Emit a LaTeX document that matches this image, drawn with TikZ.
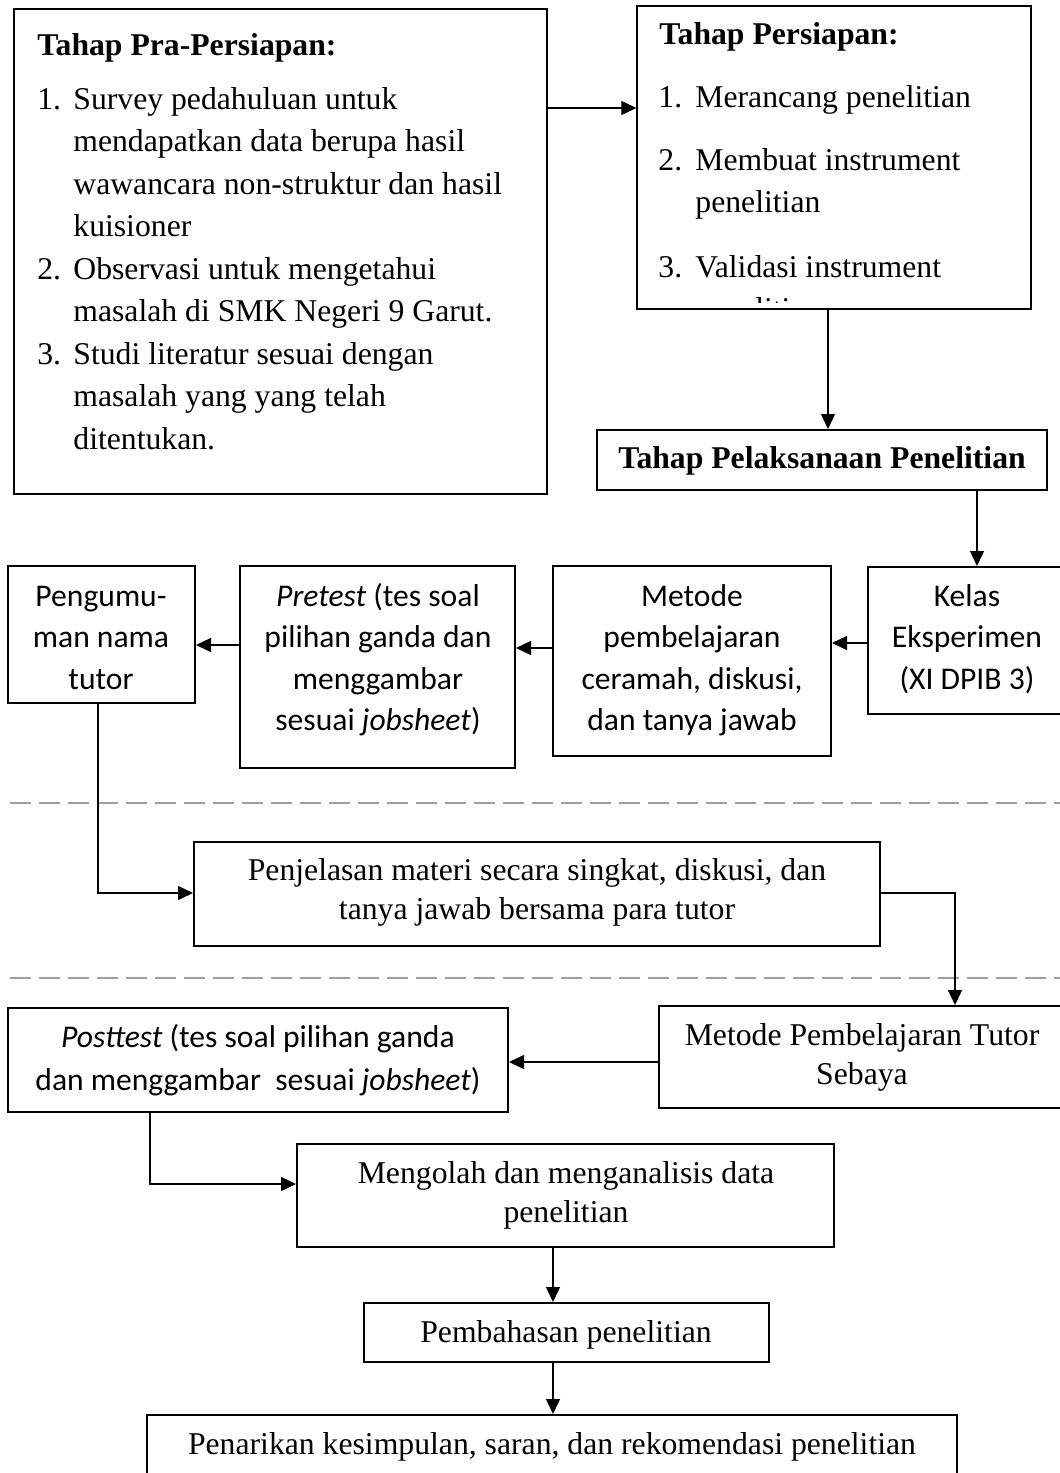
\documentclass[tikz,border=0pt]{standalone}
\usepackage{fontspec}
\setmainfont{Liberation Serif}
\newfontfamily\calfont{Carlito}
\usetikzlibrary{arrows.meta,fit}
\begin{document}
\begin{tikzpicture}[x=0.5pt,y=-0.5pt,
  boxA/.style={draw, line width=0.7pt, inner sep=0pt},
  boxB/.style={draw, line width=1pt, inner sep=0pt},
  conn/.style={line width=0.65pt, -{Triangle[length=7.5pt,width=7pt]}},
  sepline/.style={draw=black!38, line width=1.3pt, dash pattern=on 10.5pt off 4pt},
  tnr/.style={font=\fontsize{15.85pt}{21.25pt}\selectfont, inner sep=0pt},
  tnrc/.style={font=\fontsize{15.85pt}{19.5pt}\selectfont, inner sep=0pt, align=center, anchor=base},
  cal/.style={font=\calfont\fontsize{15.8pt}{20.75pt}\selectfont, inner sep=0pt, align=center, anchor=base},
]
\useasboundingbox (0,0) rectangle (1060,1473);
\fill[white] (0,0) rectangle (1060,1473);

% separators
\draw[sepline] (10,803) -- (1060,803);
\draw[sepline] (10,978) -- (1060,978);

% boxes
\node[boxA, fit={(14,9) (547,494)}] (b1) {};
\node[boxA, fit={(637,6) (1031,309)}] (b2) {};
\node[boxB, fit={(597,430) (1047,490)}] (b3) {};
\node[boxB, fit={(8,566) (195,703)}] (peng) {};
\node[boxB, fit={(240,566) (515,768)}] (pre) {};
\node[boxB, fit={(553,566) (831,756)}] (met) {};
\node[boxB, fit={(868,567) (1066,714)}] (kel) {};
\node[boxB, fit={(194,842) (880,946)}] (penj) {};
\node[boxB, fit={(659,1006) (1066,1108)}] (tutor) {};
\node[boxB, fit={(8,1008) (508,1112)}] (post) {};
\node[boxB, fit={(297,1144) (834,1247)}] (meng) {};
\node[boxB, fit={(364,1303) (769,1362)}] (pemb) {};
\node[boxB, fit={(147,1415) (957,1482)}] (pena) {};

% box 1 text (base anchor = last line)
\node[tnr, anchor=base west] (t1title) at (37,55) {\textbf{Tahap Pra-Persiapan:}};
\node[tnr, anchor=base west, align=left] (t1list) at (37,449) {%
\makebox[18pt][l]{1.}Survey pedahuluan untuk\\
\hspace*{18pt}mendapatkan data berupa hasil\\
\hspace*{18pt}wawancara non-struktur dan hasil\\
\hspace*{18pt}kuisioner\\
\makebox[18pt][l]{2.}Observasi untuk mengetahui\\
\hspace*{18pt}masalah di SMK Negeri 9 Garut.\\
\makebox[18pt][l]{3.}Studi literatur sesuai dengan\\
\hspace*{18pt}masalah yang yang telah\\
\hspace*{18pt}ditentukan.};

% box 2 text
\node[tnr, anchor=base west] (t2title) at (659,44) {\textbf{Tahap Persiapan:}};
\begin{scope}
\clip (637,6) rectangle (1031,302.5);
\node[tnr, anchor=base west, align=left] (t2list) at (658,319.5) {%
\makebox[18.5pt][l]{1.}Merancang penelitian\\[10.25pt]
\makebox[18.5pt][l]{2.}Membuat instrument\\
\hspace*{18.5pt}penelitian\\[11pt]
\makebox[18.5pt][l]{3.}Validasi instrument\\
\hspace*{18.5pt}penelitian};
\end{scope}

% box 3 text
\node[tnrc] (t3) at (822,468) {\textbf{Tahap Pelaksanaan Penelitian}};

% row 2 texts
\node[cal] (tpeng) at (101,689) {Pengumu-\\man nama\\tutor};
\node[cal] (tpre) at (378,730.5) {\textit{Pretest} (tes soal\\pilihan ganda dan\\menggambar\\sesuai \textit{jobsheet})};
\node[cal] (tmet) at (692,730.5) {Metode\\pembelajaran\\ceramah, diskusi,\\dan tanya jawab};
\node[cal] (tkel) at (967,689) {Kelas\\Eksperimen\\(XI DPIB 3)};

% lower texts
\node[tnrc] (tpenj) at (537,919) {Penjelasan materi secara singkat, diskusi, dan\\tanya jawab bersama para tutor};
\node[tnrc] (ttutor) at (862,1084) {Metode Pembelajaran Tutor\\Sebaya};
\node[cal, font=\calfont\fontsize{15.8pt}{21.5pt}\selectfont] (tpost) at (258,1090) {\textit{Posttest} (tes soal pilihan ganda\\dan menggambar\ \ sesuai \textit{jobsheet})};
\node[tnrc] (tmeng) at (566,1222) {Mengolah dan menganalisis data\\penelitian};
\node[tnrc] (tpemb) at (566,1342) {Pembahasan penelitian};
\node[tnrc] (tpena) at (552,1454) {Penarikan kesimpulan, saran, dan rekomendasi penelitian};

% connectors
\draw[conn] (b1.east |- 0,108) -- (b2.west |- 0,108);
\draw[conn] (b2.south -| 828,0) -- (b3.north -| 828,0);
\draw[conn] (b3.south -| 977,0) -- (kel.north -| 977,0);
\draw[conn] (kel.west |- 0,643) -- (met.east |- 0,643);
\draw[conn] (met.west |- 0,648) -- (pre.east |- 0,648);
\draw[conn] (pre.west |- 0,645) -- (peng.east |- 0,645);
\draw[conn] (peng.south -| 98,0) |- (penj.west |- 0,893);
\draw[conn] (penj.east |- 0,893) -| (tutor.north -| 955,0);
\draw[conn] (tutor.west |- 0,1062) -- (post.east |- 0,1062);
\draw[conn] (post.south -| 150,0) |- (meng.west |- 0,1184);
\draw[conn] (meng.south -| 553,0) -- (pemb.north -| 553,0);
\draw[conn] (pemb.south -| 553,0) -- (pena.north -| 553,0);
\end{tikzpicture}
\end{document}
